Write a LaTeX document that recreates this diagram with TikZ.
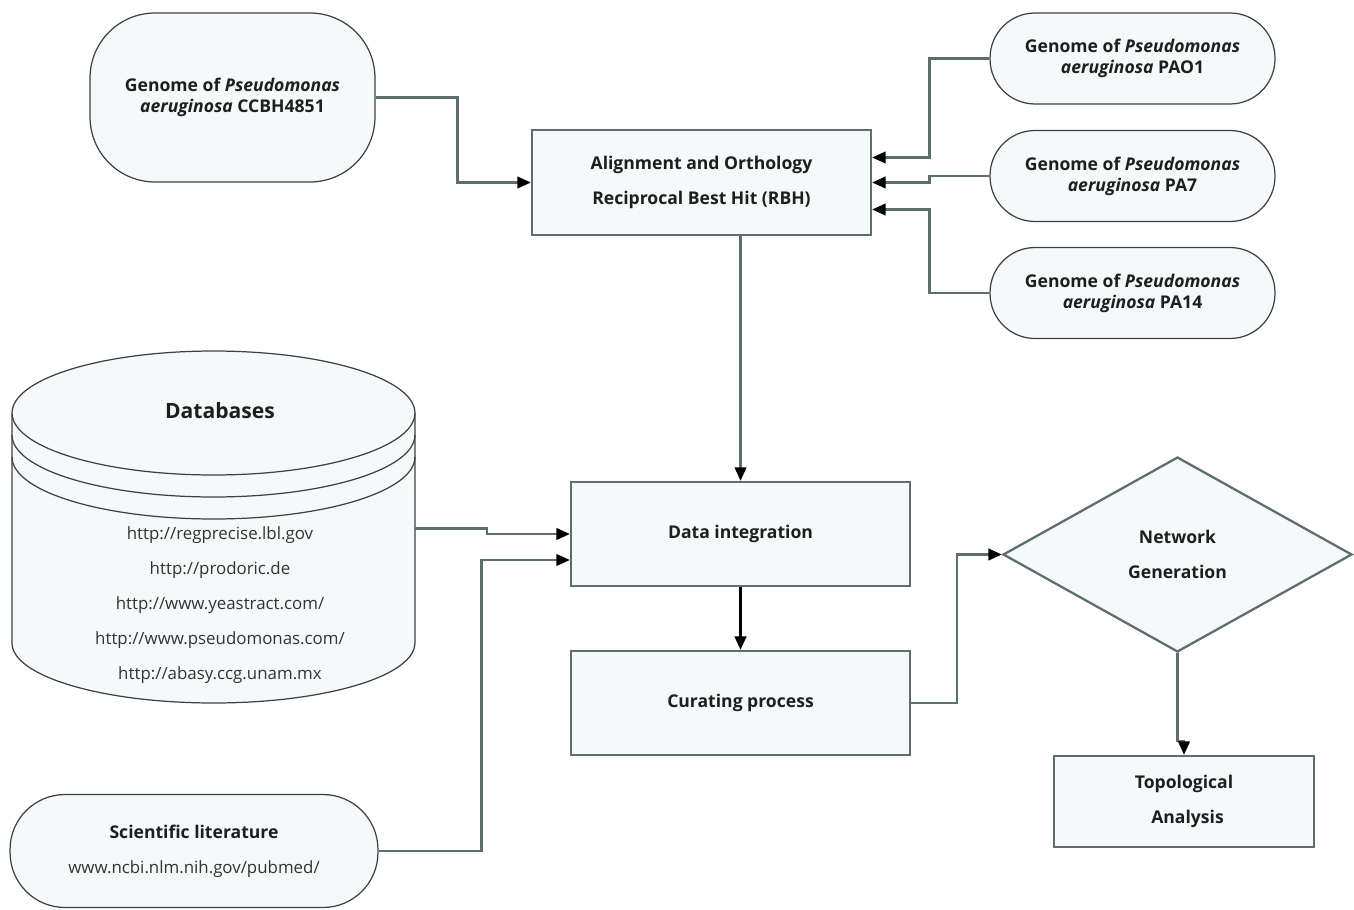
\documentclass[tikz,border=0pt]{standalone}
\usepackage{fontspec}
\setmainfont{Open Sans}
\usetikzlibrary{arrows.meta,shapes.geometric}
\definecolor{boxfill}{HTML}{F5F9FA}
\definecolor{lineg}{HTML}{5E6E6E}
\definecolor{txt}{HTML}{1E1E1E}
\begin{document}
\begin{tikzpicture}[x=0.02cm, y=-0.02cm,
        every node/.style={align=center, text=txt, font=\fontsize{10}{12}\selectfont},
        b/.style={draw=lineg, line width=1.3pt, fill=boxfill, minimum width=6.78cm, minimum height=2.08cm, inner sep=0pt, font=\fontsize{10}{12}\selectfont\bfseries},
        g/.style={draw=black!75, line width=0.7pt, fill=boxfill, minimum width=5.7cm, minimum height=1.82cm, rounded corners=0.9cm, inner sep=0pt, font=\fontsize{10}{12}\selectfont\bfseries},
        con/.style={draw=lineg, line width=1.3pt, -{Triangle[length=2.7mm, width=2.3mm, color=black]}}]
        \useasboundingbox (0,0) rectangle (1354,909);

        % genomes
        \node[g, minimum height=3.38cm, rounded corners=1.3cm] (ccbh) at (232.5,97.5) {Genome of \textit{Pseudomonas}\\\textit{aeruginosa} CCBH4851};
        \node[g] (pao1) at (1132.5,58.5) {Genome of \textit{Pseudomonas}\\\textit{aeruginosa} PAO1};
        \node[g] (pa7) at (1132.5,176) {Genome of \textit{Pseudomonas}\\\textit{aeruginosa} PA7};
        \node[g] (pa14) at (1132.5,293) {Genome of \textit{Pseudomonas}\\\textit{aeruginosa} PA14};

        \node[b, minimum height=2.1cm] (align) at (701.5,182.5) {Alignment and Orthology\\[8pt]Reciprocal Best Hit (RBH)};
        \node[b] (dint) at (740.5,534) {Data integration};
        \node[b] (cur) at (740.5,703) {Curating process};
        \node[diamond, draw=lineg, line width=1.3pt, fill=boxfill, minimum width=6.98cm, minimum height=3.9cm, inner sep=0pt, font=\fontsize{10}{12}\selectfont\bfseries] (net) at (1177.5,554.5) {Network\\[8pt]Generation};
        \node[b, minimum width=5.2cm, minimum height=1.82cm] (topo) at (1184,801.5) {Topological\\[8pt]\hspace*{4pt}Analysis};

        % database cylinder
        \path[draw=black!75, line width=0.7pt, fill=boxfill] (12,413) -- (12,643) arc[start angle=180, end angle=360, x radius=4.03cm, y radius=1.2cm] -- (415,413);
        \draw[black!75, line width=0.7pt, fill=boxfill] (213.5,413) ellipse [x radius=4.03cm, y radius=1.24cm];
        \draw[black!75, line width=0.7pt] (12,435) arc[start angle=180, end angle=360, x radius=4.03cm, y radius=1.24cm];
        \draw[black!75, line width=0.7pt] (12,457) arc[start angle=180, end angle=360, x radius=4.03cm, y radius=1.24cm];
        \node[minimum width=8.06cm, minimum height=7.06cm, inner sep=0pt] (db) at (213.5,528.5) {};
        \node[font=\fontsize{12}{14}\selectfont\bfseries] (dbtitle) at (220,411) {Databases};
        \node[text=black!80, font=\fontsize{9.6}{11.5}\selectfont] (dburls) at (220,605) {http://regprecise.lbl.gov\\[8.5pt]http://prodoric.de\\[8.5pt]http://www.yeastract.com/\\[8.5pt]http://www.pseudomonas.com/\\[8.5pt]http://abasy.ccg.unam.mx};

        \node[g, minimum width=7.36cm, minimum height=2.26cm, rounded corners=1.1cm, font=\fontsize{10}{12}\selectfont] (sci) at (194,851) {\textbf{Scientific literature}\\[8pt]\color{black!80}\fontsize{9.6}{11.5}\selectfont www.ncbi.nlm.nih.gov/pubmed/};

        \draw[con] (ccbh.east) -- ++(82,0) |- (align.west);
        \draw[con] (pao1.west) -- ++(-60,0) |- ([yshift=0.5cm]align.east);
        \draw[con] (pa7.west) -- ++(-60,0) |- (align.east);
        \draw[con] (pa14.west) -- ++(-60,0) |- ([yshift=-0.54cm]align.east);
        \draw[con] (align.south -| dint.north) -- (dint.north);
        \draw[con] (db.east) -- ++(72,0) |- (dint.west);
        \draw[con] (sci.east) -- ++(103,0) |- ([yshift=-0.52cm]dint.west);
        \draw[con, draw=black, line width=1.6pt] (dint.south) -- (cur.north);
        \draw[con] (cur.east) -- ++(46,0) |- (net.west);
        \draw[con] (net.south) -- ++(0,88) -| (topo.north);
    \end{tikzpicture}
\end{document}
